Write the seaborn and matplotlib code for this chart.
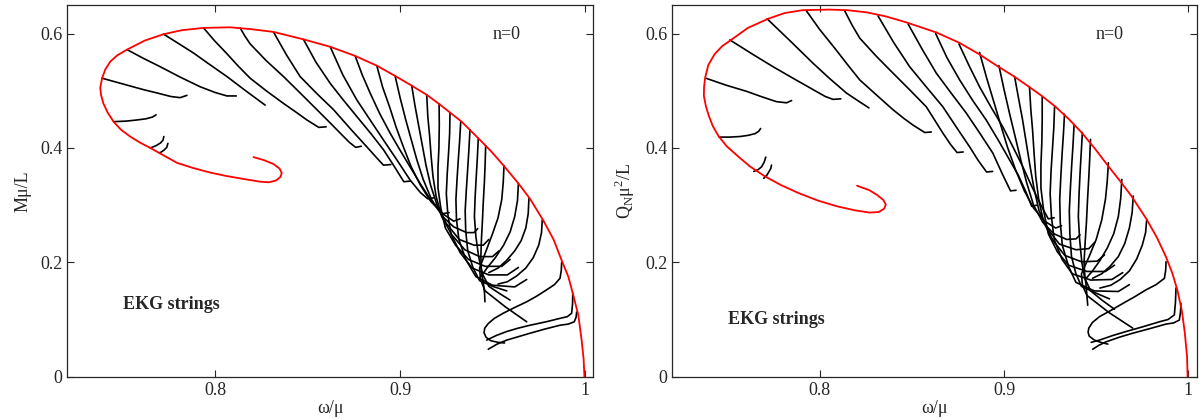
import pandas as pd
import seaborn as sns
import matplotlib.pyplot as plt

# ---- left panel (M mu / L) ----
# red boundary curve
m_edge_x = [0.9997, 0.9993, 0.9982, 0.9964, 0.9934, 0.9910, 0.9877, 0.9830, 0.9775, 0.9703,
            0.9640, 0.9558, 0.9490, 0.9423, 0.9333, 0.9270, 0.9211, 0.9144, 0.9063, 0.8973,
            0.8874, 0.8757, 0.8622, 0.8477, 0.8315, 0.8189, 0.8080, 0.7937, 0.7820, 0.7721,
            0.7620, 0.7523, 0.7470, 0.7432, 0.7405, 0.7388, 0.7378, 0.7383, 0.7395, 0.7418,
            0.7450, 0.7490, 0.7540, 0.7590, 0.7649, 0.7710, 0.7793, 0.7880, 0.7973, 0.8060,
            0.8150, 0.8243, 0.8290, 0.8328, 0.8352, 0.8360, 0.8348, 0.8315, 0.8261, 0.8207]
m_edge_y = [0.000, 0.030, 0.064, 0.108, 0.146, 0.175, 0.201, 0.240, 0.273, 0.311,
            0.338, 0.370, 0.395, 0.417, 0.446, 0.462, 0.477, 0.493, 0.509, 0.526,
            0.544, 0.561, 0.577, 0.590, 0.603, 0.608, 0.611, 0.610, 0.606, 0.599,
            0.588, 0.572, 0.562, 0.551, 0.537, 0.522, 0.505, 0.492, 0.478, 0.462,
            0.446, 0.432, 0.420, 0.410, 0.400, 0.389, 0.374, 0.365, 0.357, 0.351,
            0.346, 0.341, 0.340, 0.343, 0.349, 0.356, 0.364, 0.372, 0.379, 0.384]

# black branches (omega, M)
m_strings = [
    [(0.7450, 0.446), (0.7520, 0.447), (0.7577, 0.449), (0.7625, 0.451), (0.7660, 0.454), (0.7680, 0.458)],
    [(0.7649, 0.400), (0.7680, 0.404), (0.7705, 0.409), (0.7718, 0.414), (0.7722, 0.420)],
    [(0.7699, 0.391), (0.7722, 0.396), (0.7738, 0.401), (0.7744, 0.408)],
    [(0.7388, 0.522), (0.7500, 0.512), (0.7612, 0.502), (0.7700, 0.495), (0.7760, 0.490), (0.7810, 0.488), (0.7847, 0.492)],
    [(0.7523, 0.572), (0.7610, 0.557), (0.7703, 0.542), (0.7810, 0.524), (0.7919, 0.507), (0.8000, 0.497),
     (0.8063, 0.491), (0.8114, 0.491)],
    [(0.7721, 0.599), (0.7800, 0.583), (0.7883, 0.566), (0.7970, 0.546), (0.8063, 0.525), (0.8165, 0.500), (0.8270, 0.475)],
    [(0.7937, 0.610), (0.7995, 0.588), (0.8060, 0.566), (0.8125, 0.543), (0.8189, 0.522), (0.8280, 0.499),
     (0.8369, 0.478), (0.8440, 0.462), (0.8496, 0.449), (0.8560, 0.436), (0.8600, 0.437)],
    [(0.8135, 0.610), (0.8160, 0.596), (0.8189, 0.582), (0.8275, 0.553), (0.8369, 0.525), (0.8460, 0.496),
     (0.8550, 0.467), (0.8615, 0.446), (0.8676, 0.426), (0.8725, 0.410), (0.8760, 0.401), (0.8790, 0.403)],
    [(0.8315, 0.603), (0.8385, 0.563), (0.8459, 0.525), (0.8550, 0.495), (0.8640, 0.467), (0.8730, 0.434),
     (0.8820, 0.402), (0.8870, 0.384), (0.8910, 0.370), (0.8950, 0.371)],
    [(0.8477, 0.590), (0.8545, 0.550), (0.8622, 0.513), (0.8695, 0.483), (0.8766, 0.455), (0.8840, 0.426),
     (0.8910, 0.397), (0.8970, 0.367), (0.9020, 0.341), (0.9055, 0.342)],
    [(0.8622, 0.577), (0.8690, 0.528), (0.8766, 0.484), (0.8840, 0.448), (0.8910, 0.414), (0.8985, 0.378),
     (0.9054, 0.344), (0.9110, 0.322), (0.9150, 0.311), (0.9185, 0.313)],
    [(0.8757, 0.561), (0.8795, 0.528), (0.8838, 0.496), (0.8890, 0.460), (0.8946, 0.426), (0.9000, 0.396),
     (0.9054, 0.367), (0.9110, 0.337), (0.9170, 0.307), (0.9230, 0.285), (0.9265, 0.287)],
    [(0.8874, 0.544), (0.8905, 0.507), (0.8945, 0.470), (0.8980, 0.435), (0.9020, 0.400), (0.9060, 0.367),
     (0.9110, 0.335), (0.9165, 0.307), (0.9230, 0.285), (0.9290, 0.272), (0.9324, 0.276)],
    [(0.8973, 0.526), (0.9000, 0.488), (0.9030, 0.450), (0.9060, 0.415), (0.9090, 0.380), (0.9125, 0.345),
     (0.9170, 0.310), (0.9230, 0.280), (0.9290, 0.262), (0.9360, 0.252), (0.9400, 0.252), (0.9420, 0.259)],
    [(0.9063, 0.509), (0.9080, 0.475), (0.9100, 0.440), (0.9120, 0.405), (0.9140, 0.370), (0.9165, 0.335),
     (0.9200, 0.300), (0.9250, 0.268), (0.9320, 0.240), (0.9400, 0.230), (0.9450, 0.230), (0.9480, 0.240)],
    [(0.9144, 0.493), (0.9150, 0.455), (0.9160, 0.420), (0.9168, 0.385), (0.9178, 0.350), (0.9195, 0.315),
     (0.9225, 0.280), (0.9280, 0.248), (0.9350, 0.222), (0.9430, 0.210), (0.9500, 0.210), (0.9535, 0.220)],
    [(0.9211, 0.477), (0.9212, 0.440), (0.9210, 0.400), (0.9205, 0.365), (0.9205, 0.330), (0.9220, 0.295),
     (0.9245, 0.260), (0.9300, 0.230), (0.9370, 0.205), (0.9460, 0.193), (0.9550, 0.193), (0.9595, 0.205)],
    [(0.9270, 0.461), (0.9268, 0.425), (0.9262, 0.390), (0.9255, 0.355), (0.9250, 0.320), (0.9258, 0.285),
     (0.9275, 0.250), (0.9325, 0.217), (0.9390, 0.190), (0.9480, 0.178), (0.9580, 0.178), (0.9640, 0.191)],
    [(0.9328, 0.446), (0.9322, 0.412), (0.9315, 0.380), (0.9308, 0.345), (0.9302, 0.310), (0.9305, 0.275),
     (0.9318, 0.240), (0.9355, 0.205), (0.9410, 0.175), (0.9500, 0.160), (0.9620, 0.157), (0.9685, 0.170)],
    [(0.9378, 0.432), (0.9372, 0.396), (0.9365, 0.360), (0.9358, 0.325), (0.9352, 0.290), (0.9355, 0.255),
     (0.9366, 0.220), (0.9395, 0.190), (0.9430, 0.168), (0.9500, 0.158), (0.9577, 0.150)],
    [(0.9423, 0.417), (0.9418, 0.383), (0.9412, 0.350), (0.9406, 0.315), (0.9402, 0.280), (0.9410, 0.245),
     (0.9425, 0.210), (0.9445, 0.180), (0.9480, 0.158), (0.9540, 0.145), (0.9595, 0.134)],
    [(0.9463, 0.404), (0.9460, 0.372), (0.9456, 0.340), (0.9450, 0.305), (0.9445, 0.270), (0.9440, 0.240),
     (0.9437, 0.210), (0.9440, 0.185), (0.9450, 0.165), (0.9457, 0.145), (0.9459, 0.131)],
    [(0.9562, 0.369), (0.9558, 0.340), (0.9550, 0.310), (0.9530, 0.278), (0.9500, 0.250), (0.9465, 0.220),
     (0.9430, 0.190), (0.9435, 0.170), (0.9460, 0.150), (0.9570, 0.122), (0.9685, 0.096)],
    [(0.9640, 0.338), (0.9635, 0.308), (0.9620, 0.280), (0.9595, 0.253), (0.9560, 0.230), (0.9515, 0.208),
     (0.9470, 0.190), (0.9430, 0.172)],
    [(0.9697, 0.312), (0.9693, 0.285), (0.9680, 0.260), (0.9655, 0.238), (0.9620, 0.220), (0.9575, 0.203),
     (0.9530, 0.190), (0.9480, 0.182)],
    [(0.9769, 0.274), (0.9765, 0.252), (0.9750, 0.230), (0.9720, 0.208), (0.9680, 0.190), (0.9630, 0.176),
     (0.9580, 0.166), (0.9530, 0.162)],
    [(0.9874, 0.200), (0.9872, 0.186), (0.9865, 0.172), (0.9835, 0.161), (0.9793, 0.152), (0.9740, 0.141),
     (0.9685, 0.131), (0.9620, 0.121), (0.9558, 0.111), (0.9510, 0.102), (0.9477, 0.093), (0.9458, 0.085),
     (0.9454, 0.077), (0.9465, 0.069), (0.9490, 0.063), (0.9530, 0.060), (0.9565, 0.059)],
    [(0.9934, 0.146), (0.9933, 0.128), (0.9928, 0.111), (0.9905, 0.105), (0.9865, 0.102), (0.9790, 0.096),
     (0.9703, 0.090), (0.9640, 0.085), (0.9577, 0.079), (0.9520, 0.072), (0.9469, 0.064)],
    [(0.9955, 0.113), (0.9952, 0.104), (0.9942, 0.096), (0.9910, 0.092), (0.9865, 0.090), (0.9780, 0.083),
     (0.9703, 0.076), (0.9640, 0.070), (0.9577, 0.064), (0.9525, 0.057), (0.9477, 0.048)],
]

# ---- right panel (Q_N mu^2 / L) ----
q_edge_x = [0.9996, 0.9993, 0.9981, 0.9965, 0.9940, 0.9912, 0.9878, 0.9830, 0.9774, 0.9691,
            0.9630, 0.9566, 0.9495, 0.9421, 0.9350, 0.9276, 0.9205, 0.9131, 0.9050, 0.8965,
            0.8865, 0.8757, 0.8633, 0.8467, 0.8360, 0.8259, 0.8150, 0.8052, 0.7907, 0.7810,
            0.7720, 0.7610, 0.7523, 0.7470, 0.7429, 0.7395, 0.7378, 0.7372, 0.7371, 0.7382,
            0.7398, 0.7420, 0.7450, 0.7495, 0.7554, 0.7620, 0.7699, 0.7790, 0.7886, 0.7990,
            0.8093, 0.8190, 0.8271, 0.8320, 0.8350, 0.8358, 0.8345, 0.8310, 0.8270, 0.8202]
q_edge_y = [0.000, 0.035, 0.076, 0.115, 0.152, 0.182, 0.210, 0.243, 0.275, 0.316,
            0.342, 0.368, 0.398, 0.427, 0.451, 0.473, 0.491, 0.508, 0.526, 0.543,
            0.564, 0.584, 0.602, 0.620, 0.630, 0.637, 0.641, 0.642, 0.641, 0.636,
            0.626, 0.610, 0.590, 0.578, 0.564, 0.545, 0.523, 0.507, 0.491, 0.473,
            0.456, 0.438, 0.421, 0.403, 0.386, 0.368, 0.351, 0.335, 0.321, 0.308,
            0.298, 0.291, 0.287, 0.288, 0.294, 0.301, 0.309, 0.318, 0.326, 0.334]

q_strings = [
    [(0.7454, 0.419), (0.7510, 0.419), (0.7566, 0.420), (0.7610, 0.422), (0.7648, 0.425), (0.7668, 0.429), (0.7679, 0.434)],
    [(0.7642, 0.359), (0.7665, 0.362), (0.7684, 0.367), (0.7698, 0.375), (0.7707, 0.384)],
    [(0.7696, 0.347), (0.7712, 0.352), (0.7725, 0.359), (0.7734, 0.364), (0.7738, 0.370)],
    [(0.7382, 0.522), (0.7490, 0.510), (0.7603, 0.499), (0.7690, 0.489), (0.7765, 0.481), (0.7820, 0.479), (0.7847, 0.483)],
    [(0.7512, 0.589), (0.7630, 0.565), (0.7747, 0.542), (0.7860, 0.521), (0.7964, 0.502), (0.8030, 0.490),
     (0.8072, 0.485), (0.8114, 0.486)],
    [(0.7714, 0.626), (0.7840, 0.587), (0.7964, 0.548), (0.8055, 0.521), (0.8145, 0.496), (0.8210, 0.482), (0.8267, 0.470)],
    [(0.7927, 0.640), (0.8000, 0.607), (0.8080, 0.575), (0.8150, 0.546), (0.8217, 0.519), (0.8310, 0.492),
     (0.8397, 0.467), (0.8455, 0.452), (0.8506, 0.440), (0.8570, 0.427), (0.8605, 0.428)],
    [(0.8135, 0.640), (0.8175, 0.615), (0.8217, 0.592), (0.8305, 0.561), (0.8397, 0.531), (0.8490, 0.501),
     (0.8578, 0.472), (0.8625, 0.448), (0.8668, 0.426), (0.8710, 0.406), (0.8745, 0.392), (0.8778, 0.393)],
    [(0.8316, 0.631), (0.8400, 0.585), (0.8488, 0.542), (0.8580, 0.506), (0.8668, 0.472), (0.8740, 0.437),
     (0.8813, 0.402), (0.8860, 0.378), (0.8905, 0.358), (0.8938, 0.359)],
    [(0.8479, 0.617), (0.8555, 0.573), (0.8632, 0.531), (0.8715, 0.495), (0.8795, 0.461), (0.8868, 0.426),
     (0.8939, 0.391), (0.8990, 0.355), (0.9035, 0.325), (0.9065, 0.326)],
    [(0.8629, 0.600), (0.8690, 0.558), (0.8759, 0.519), (0.8830, 0.483), (0.8903, 0.449), (0.8968, 0.414),
     (0.9030, 0.379), (0.9078, 0.352), (0.9120, 0.322), (0.9150, 0.298), (0.9180, 0.300)],
    [(0.8755, 0.582), (0.8810, 0.544), (0.8867, 0.507), (0.8930, 0.471), (0.8993, 0.437), (0.9048, 0.402),
     (0.9102, 0.367), (0.9150, 0.333), (0.9200, 0.300), (0.9240, 0.276), (0.9272, 0.278)],
    [(0.8867, 0.567), (0.8905, 0.523), (0.8945, 0.480), (0.8982, 0.440), (0.9020, 0.400), (0.9062, 0.362),
     (0.9110, 0.325), (0.9160, 0.295), (0.9220, 0.272), (0.9280, 0.260), (0.9312, 0.264)],
    [(0.8972, 0.544), (0.9000, 0.502), (0.9030, 0.460), (0.9060, 0.420), (0.9090, 0.380), (0.9122, 0.340),
     (0.9160, 0.300), (0.9210, 0.270), (0.9270, 0.250), (0.9340, 0.240), (0.9390, 0.241), (0.9412, 0.248)],
    [(0.9057, 0.525), (0.9078, 0.488), (0.9100, 0.450), (0.9120, 0.410), (0.9140, 0.370), (0.9162, 0.330),
     (0.9190, 0.290), (0.9240, 0.257), (0.9300, 0.232), (0.9390, 0.222), (0.9460, 0.224), (0.9492, 0.235)],
    [(0.9138, 0.507), (0.9145, 0.468), (0.9155, 0.430), (0.9163, 0.390), (0.9172, 0.350), (0.9188, 0.310),
     (0.9215, 0.270), (0.9268, 0.237), (0.9330, 0.212), (0.9420, 0.201), (0.9505, 0.202), (0.9545, 0.213)],
    [(0.9207, 0.490), (0.9207, 0.450), (0.9205, 0.410), (0.9200, 0.370), (0.9200, 0.330), (0.9215, 0.290),
     (0.9240, 0.250), (0.9290, 0.218), (0.9350, 0.195), (0.9450, 0.184), (0.9550, 0.184), (0.9599, 0.195)],
    [(0.9274, 0.472), (0.9270, 0.436), (0.9263, 0.400), (0.9255, 0.360), (0.9250, 0.320), (0.9257, 0.280),
     (0.9272, 0.240), (0.9315, 0.205), (0.9370, 0.180), (0.9470, 0.169), (0.9585, 0.170), (0.9644, 0.182)],
    [(0.9328, 0.459), (0.9322, 0.424), (0.9315, 0.390), (0.9308, 0.350), (0.9302, 0.310), (0.9305, 0.270),
     (0.9316, 0.230), (0.9350, 0.193), (0.9390, 0.165), (0.9490, 0.150), (0.9620, 0.149), (0.9680, 0.161)],
    [(0.9380, 0.441), (0.9374, 0.405), (0.9367, 0.370), (0.9360, 0.330), (0.9354, 0.290), (0.9357, 0.250),
     (0.9366, 0.210), (0.9390, 0.180), (0.9420, 0.158), (0.9500, 0.146), (0.9572, 0.136)],
    [(0.9425, 0.427), (0.9419, 0.393), (0.9413, 0.360), (0.9407, 0.320), (0.9403, 0.280), (0.9410, 0.240),
     (0.9422, 0.200), (0.9438, 0.172), (0.9470, 0.150), (0.9535, 0.133), (0.9599, 0.118)],
    [(0.9469, 0.415), (0.9465, 0.383), (0.9460, 0.350), (0.9453, 0.310), (0.9447, 0.270), (0.9440, 0.235),
     (0.9434, 0.200), (0.9438, 0.178), (0.9445, 0.160), (0.9450, 0.140), (0.9454, 0.125)],
    [(0.9566, 0.374), (0.9560, 0.342), (0.9550, 0.310), (0.9530, 0.274), (0.9500, 0.240), (0.9460, 0.209),
     (0.9420, 0.180), (0.9425, 0.160), (0.9450, 0.142), (0.9570, 0.112), (0.9698, 0.085)],
    [(0.9639, 0.345), (0.9633, 0.312), (0.9620, 0.280), (0.9595, 0.250), (0.9560, 0.225), (0.9520, 0.203),
     (0.9480, 0.185), (0.9440, 0.170)],
    [(0.9701, 0.316), (0.9695, 0.287), (0.9680, 0.260), (0.9655, 0.233), (0.9620, 0.210), (0.9575, 0.193),
     (0.9530, 0.180), (0.9480, 0.172)],
    [(0.9774, 0.275), (0.9768, 0.252), (0.9750, 0.230), (0.9720, 0.206), (0.9680, 0.185), (0.9630, 0.170),
     (0.9580, 0.160), (0.9520, 0.155)],
    [(0.9879, 0.201), (0.9877, 0.186), (0.9870, 0.172), (0.9825, 0.161), (0.9771, 0.152), (0.9710, 0.140),
     (0.9644, 0.128), (0.9580, 0.116), (0.9518, 0.105), (0.9480, 0.095), (0.9460, 0.085), (0.9456, 0.078),
     (0.9462, 0.071), (0.9490, 0.064), (0.9525, 0.060), (0.9563, 0.057)],
    [(0.9933, 0.155), (0.9930, 0.130), (0.9924, 0.108), (0.9890, 0.100), (0.9843, 0.096), (0.9750, 0.087),
     (0.9662, 0.079), (0.9590, 0.072), (0.9518, 0.064), (0.9473, 0.060)],
    [(0.9960, 0.128), (0.9957, 0.112), (0.9951, 0.099), (0.9920, 0.094), (0.9879, 0.092), (0.9790, 0.084),
     (0.9698, 0.076), (0.9625, 0.069), (0.9554, 0.061), (0.9515, 0.055), (0.9481, 0.048)],
]

x_ticks = [0.8, 0.9, 1.0]
x_ticklabels = ['0.8', '0.9', '1']
y_ticks = [0, 0.2, 0.4, 0.6]
y_ticklabels = ['0', '0.2', '0.4', '0.6']


def strings_frame(curves):
    rows = []
    for i, c in enumerate(curves):
        for w, v in c:
            rows.append({'id': i, 'w': w, 'v': v})
    return pd.DataFrame(rows)


sns.set_style('ticks')
plt.rcParams['font.family'] = ['Liberation Serif', 'DejaVu Serif']

fig = plt.figure(figsize=(12, 4.19), dpi=100)
ax1 = fig.add_axes([0.0561, 0.101, 0.4383, 0.887])
ax2 = fig.add_axes([0.5603, 0.101, 0.4369, 0.887])

panels = [
    (ax1, m_edge_x, m_edge_y, m_strings, 'Mμ/L', 0.1256),
    (ax2, q_edge_x, q_edge_y, q_strings, r'Q$_\mathregular{N}$μ$^\mathregular{2}$/L', 0.0993),
]

for ax, ex, ey, curves, ylab, ekg_y in panels:
    df = strings_frame(curves)
    sns.lineplot(data=df, x='w', y='v', units='id', estimator=None, sort=False,
                 color='black', linewidth=1.2, ax=ax, legend=False)
    edge = pd.DataFrame({'w': ex, 'v': ey})
    sns.lineplot(data=edge, x='w', y='v', estimator=None, sort=False,
                 color='#ff0000', linewidth=1.3, ax=ax)

    ax.set_xlim(0.72, 1.0045)
    ax.set_ylim(0, 0.65)
    ax.set_xticks(x_ticks)
    ax.set_xticklabels(x_ticklabels)
    ax.set_yticks(y_ticks)
    ax.set_yticklabels(y_ticklabels)
    ax.tick_params(direction='in', top=True, right=True, length=5, width=0.8, labelsize=13)
    for s in ax.spines.values():
        s.set_linewidth(0.9)
    ax.set_xlabel('ω/μ', fontsize=13, labelpad=1)
    ax.set_ylabel(ylab, fontsize=13, labelpad=6)

    ax.text(0.9575, 0.599, 'n=0', fontsize=13, ha='center', va='center')
    ax.text(0.7765, ekg_y, 'EKG strings', fontsize=13, fontweight='bold', ha='center', va='center')

fig.savefig('out.png', dpi=100)
